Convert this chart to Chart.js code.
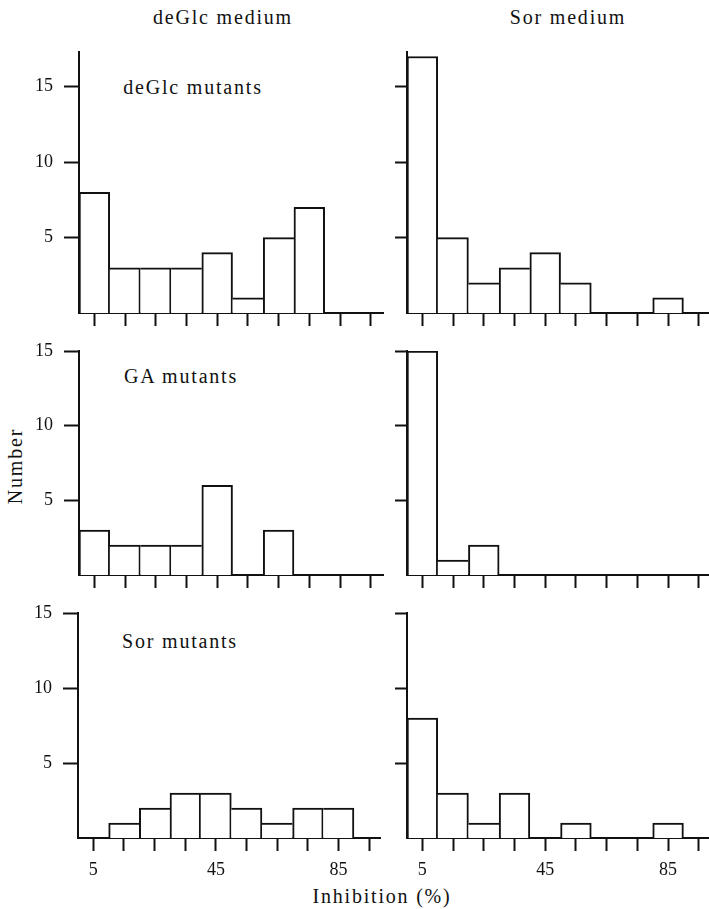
<!DOCTYPE html>
<html>
<head>
<meta charset="utf-8">
<script src="https://cdn.jsdelivr.net/npm/chart.js@4.4.1/dist/chart.umd.min.js"></script>
<style>
  html, body { margin: 0; padding: 0; background: #fff; overflow: hidden; }
  body { width: 709px; height: 909px; position: relative; }
  canvas { position: absolute; }
  .label {
    position: absolute;
    font-family: "Liberation Serif", "Times New Roman", serif;
    font-size: 20px;
    letter-spacing: 1.8px;
    color: #111;
    white-space: nowrap;
    transform: translate(-50%, -50%);
  }
</style>
</head>
<body>
<div class="label" style="left:223px; top:17px;">deGlc medium</div>
<div class="label" style="left:568px; top:17px;">Sor medium</div>
<div class="label" style="left:193px; top:87px;">deGlc mutants</div>
<div class="label" style="left:181px; top:376px;">GA mutants</div>
<div class="label" style="left:180px; top:641px;">Sor mutants</div>
<div class="label" style="left:15px; top:466px; transform: translate(-50%, -50%) rotate(-90deg);">Number</div>
<div class="label" style="left:382px; top:896px;">Inhibition (%)</div>

<script>
// Histogram bins (centre of each 10 % class of inhibition)
const bins = [5, 15, 25, 35, 45, 55, 65, 75, 85, 95];

// Number of mutants per bin
const deGlcMutantsDeGlc = [8, 3, 3, 3, 4, 1, 5, 7, 0, 0];
const deGlcMutantsSor   = [17, 5, 2, 3, 4, 2, 0, 0, 1, 0];
const gaMutantsDeGlc    = [3, 2, 2, 2, 6, 0, 3, 0, 0, 0];
const gaMutantsSor      = [15, 1, 2, 0, 0, 0, 0, 0, 0, 0];
const sorMutantsDeGlc   = [0, 1, 2, 3, 3, 2, 1, 2, 2, 0];
const sorMutantsSor     = [8, 3, 1, 3, 0, 1, 0, 0, 1, 0];

const yTicks = [5, 10, 15];
const xTickLabels = [5, 45, 85];

const INK = '#111';
const PX_PER_UNIT = 3.07; // horizontal pixels per % inhibition

Chart.defaults.font.family = '"Liberation Serif", "Times New Roman", serif';
Chart.defaults.font.size = 18;
Chart.defaults.color = INK;

// layout of the 3x2 grid: chart-area left/top/bottom in page pixels
const panels = [
  { data: deGlcMutantsDeGlc, col: 0, row: 0, L: 79,   T: 52,  B: 312.5, xMax: 99,   yMax: 17.3 },
  { data: deGlcMutantsSor,   col: 1, row: 0, L: 407,  T: 52,  B: 312.5, xMax: 98,   yMax: 17.3 },
  { data: gaMutantsDeGlc,    col: 0, row: 1, L: 79,   T: 351, B: 575,   xMax: 99,   yMax: 15 },
  { data: gaMutantsSor,      col: 1, row: 1, L: 407,  T: 351, B: 575,   xMax: 98,   yMax: 15 },
  { data: sorMutantsDeGlc,   col: 0, row: 2, L: 77.5, T: 613, B: 838,   xMax: 98.5, yMax: 15 },
  { data: sorMutantsSor,     col: 1, row: 2, L: 407,  T: 613, B: 838,   xMax: 98,   yMax: 15 }
];

// shared edges between bars are drawn once, by the taller bar
function barBorder(ctx) {
  const d = ctx.dataset.counts;
  const i = ctx.dataIndex;
  const cur = d[i];
  const prev = i > 0 ? d[i - 1] : 0;
  const next = i < d.length - 1 ? d[i + 1] : 0;
  return {
    top: 2,
    bottom: 0,
    left: prev >= cur && prev > 0 ? 0 : 2,
    right: next > cur ? 0 : 2
  };
}

function makePanel(p) {
  const yW = p.col === 0 ? 60 : 30;
  const padTop = 30;
  const padRight = 15;
  const xH = p.row === 2 ? 50 : 30;
  const areaW = p.xMax * PX_PER_UNIT;

  const canvas = document.createElement('canvas');
  canvas.width = Math.round(yW + areaW + padRight);
  canvas.height = Math.round(padTop + (p.B - p.T) + xH);
  canvas.style.left = (p.L - yW) + 'px';
  canvas.style.top = (p.T - padTop) + 'px';
  document.body.appendChild(canvas);

  new Chart(canvas.getContext('2d'), {
    type: 'bar',
    data: {
      datasets: [{
        counts: p.data,
        // empty classes get no bar at all
        data: bins.map((b, i) => ({ x: b, y: p.data[i] > 0 ? p.data[i] : null })),
        backgroundColor: '#fff',
        borderColor: INK,
        borderWidth: barBorder,
        borderSkipped: 'start',
        barPercentage: 1,
        categoryPercentage: 1
      }]
    },
    options: {
      responsive: false,
      animation: false,
      devicePixelRatio: 1,
      layout: { padding: { top: padTop, right: padRight, left: 0, bottom: 0 } },
      plugins: {
        legend: { display: false },
        tooltip: { enabled: false }
      },
      scales: {
        x: {
          type: 'linear',
          min: 0,
          max: p.xMax,
          offset: false,
          z: 1,
          border: { display: true, color: INK, width: 2 },
          grid: {
            offset: false,
            drawOnChartArea: false,
            drawTicks: true,
            tickLength: 13,
            tickWidth: 2,
            tickColor: INK
          },
          ticks: {
            padding: 8,
            autoSkip: false,
            maxRotation: 0,
            color: INK,
            callback: v => (p.row === 2 && xTickLabels.includes(v)) ? String(v) : ''
          },
          afterBuildTicks: axis => { axis.ticks = bins.map(v => ({ value: v })); },
          afterFit: axis => { axis.height = xH; }
        },
        y: {
          min: 0,
          max: p.yMax,
          z: 1,
          border: { display: true, color: INK, width: 2 },
          grid: {
            drawOnChartArea: false,
            drawTicks: true,
            tickLength: p.col === 0 ? 15 : 12,
            tickWidth: 2,
            tickColor: INK
          },
          ticks: {
            padding: 11,
            color: INK,
            callback: v => p.col === 0 ? String(v) : ''
          },
          afterBuildTicks: axis => { axis.ticks = yTicks.map(v => ({ value: v })); },
          afterFit: axis => { axis.width = yW; }
        }
      }
    }
  });
}

panels.forEach(makePanel);
</script>
</body>
</html>
